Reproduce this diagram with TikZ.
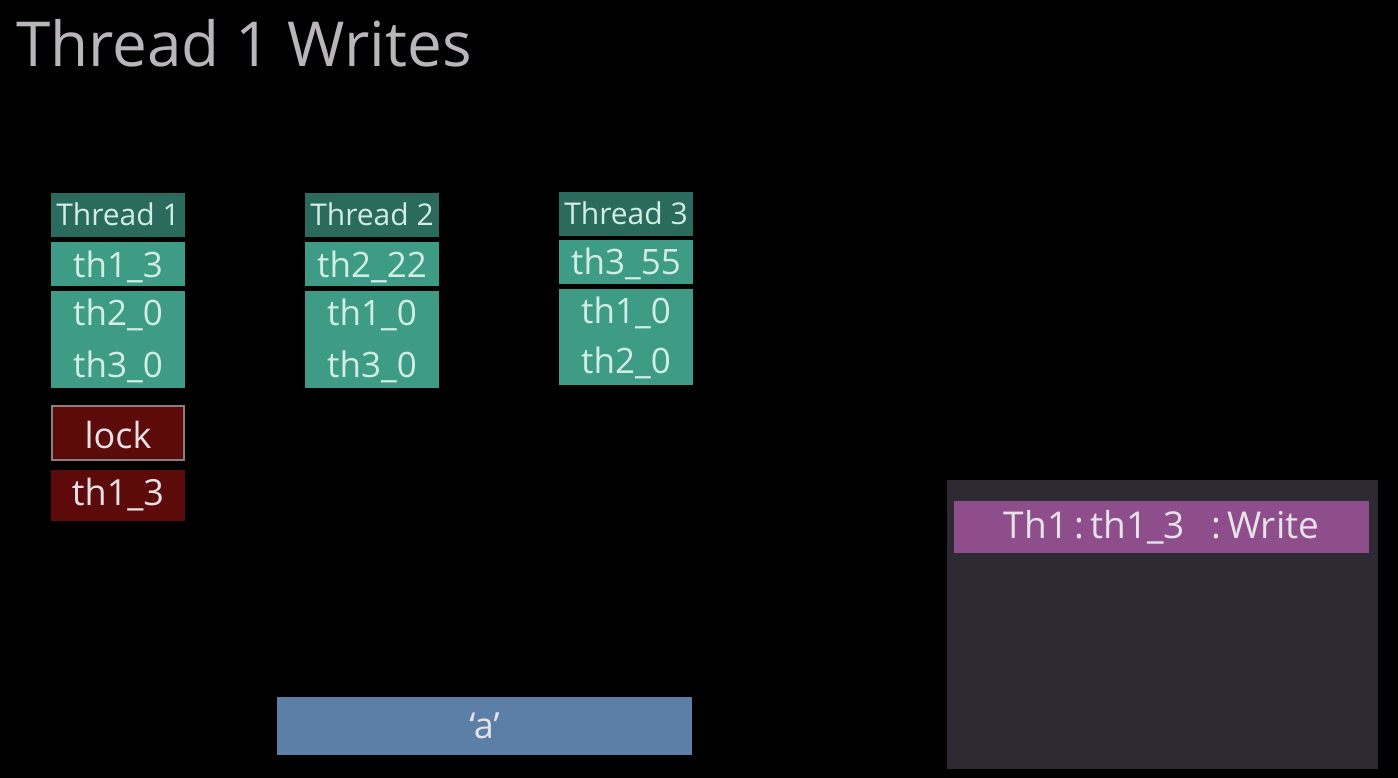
\documentclass[tikz,border=0pt]{standalone}
\usepackage{fontspec}
\setmainfont{Open Sans}
\definecolor{bg}{HTML}{000000}
\definecolor{hdr}{HTML}{2A6B5E}
\definecolor{cell}{HTML}{3E9B85}
\definecolor{celltext}{HTML}{D2EEE4}
\definecolor{lockred}{HTML}{5C0A0A}
\definecolor{lockborder}{HTML}{8A8080}
\definecolor{panel}{HTML}{2D2A33}
\definecolor{purp}{HTML}{8E4E8C}
\definecolor{abar}{HTML}{5B7FA6}
\definecolor{txt}{HTML}{E8E2E8}
\tikzset{
  box/.style={draw=none, inner sep=0pt, outer sep=0pt, anchor=north west},
  hdrbox/.style={box, fill=hdr, text=celltext, font=\fontsize{30}{30}\selectfont, text height=22pt, text depth=0pt},
  cellfont/.style={font=\fontsize{35}{35}\selectfont},
  cellbox/.style={box, fill=cell, text=celltext, cellfont, text height=27pt, text depth=1pt},
  celltxt/.style={text=celltext, cellfont, anchor=base, inner sep=0pt},
  redfont/.style={font=\fontsize{36}{36}\selectfont},
}
\begin{document}
\begin{tikzpicture}[x=1pt,y=-1pt]
\useasboundingbox (0,0) rectangle (1398,778);
\fill[bg] (0,0) rectangle (1398,778);
\node[anchor=base west, text=txt!80!black, inner sep=0pt, font=\fontsize{62}{62}\selectfont] (title) at (16,67) {Thread 1 Writes};
% Thread 1
\node[hdrbox, minimum width=134pt, minimum height=44pt] (t1h) at (51,193) {Thread 1};
\node[cellbox, minimum width=134pt, minimum height=44pt] (t1a) at (51,242) {th1\_3};
\node[box, fill=cell, minimum width=134pt, minimum height=97pt] (t1b) at (51,291) {};
\node[celltxt] (t1b1) at ([yshift=-34pt]t1b.north) {th2\_0};
\node[celltxt] (t1b2) at ([yshift=-86pt]t1b.north) {th3\_0};
% Thread 2
\node[hdrbox, minimum width=134pt, minimum height=44pt] (t2h) at (305,193) {Thread 2};
\node[cellbox, minimum width=134pt, minimum height=44pt] (t2a) at (305,242) {th2\_22};
\node[box, fill=cell, minimum width=134pt, minimum height=97pt] (t2b) at (305,291) {};
\node[celltxt] (t2b1) at ([yshift=-34pt]t2b.north) {th1\_0};
\node[celltxt] (t2b2) at ([yshift=-86pt]t2b.north) {th3\_0};
% Thread 3
\node[hdrbox, minimum width=134pt, minimum height=44pt] (t3h) at (559,192) {Thread 3};
\node[cellbox, minimum width=134pt, minimum height=44pt] (t3a) at (559,240) {th3\_55};
\node[box, fill=cell, minimum width=134pt, minimum height=96pt] (t3b) at (559,289) {};
\node[celltxt] (t3b1) at ([yshift=-34pt]t3b.north) {th1\_0};
\node[celltxt] (t3b2) at ([yshift=-84pt]t3b.north) {th2\_0};
% lock
\node[box, fill=lockred, draw=lockborder, line width=2pt, minimum width=132pt, minimum height=54pt, text=txt, redfont, text height=30pt, text depth=0pt] (lock) at (52,406) {lock};
\node[box, fill=lockred, minimum width=134pt, minimum height=51pt, text=txt, redfont, text height=26pt, text depth=6pt] (lockv) at (51,470) {th1\_3};
% panel
\node[box, fill=panel, minimum width=431pt, minimum height=289pt] (panel) at (947,480) {};
\node[box, fill=purp, minimum width=415pt, minimum height=52pt, text=txt, font=\fontsize{37}{37}\selectfont] (entry) at (954,501) {Th1\,:\,th1\_3\hspace{26pt}:\,Write};
% value
\node[box, fill=abar, minimum width=415pt, minimum height=58pt, text=txt, font=\fontsize{36}{36}\selectfont] (val) at (277,697) {‘a’};
\end{tikzpicture}
\end{document}
